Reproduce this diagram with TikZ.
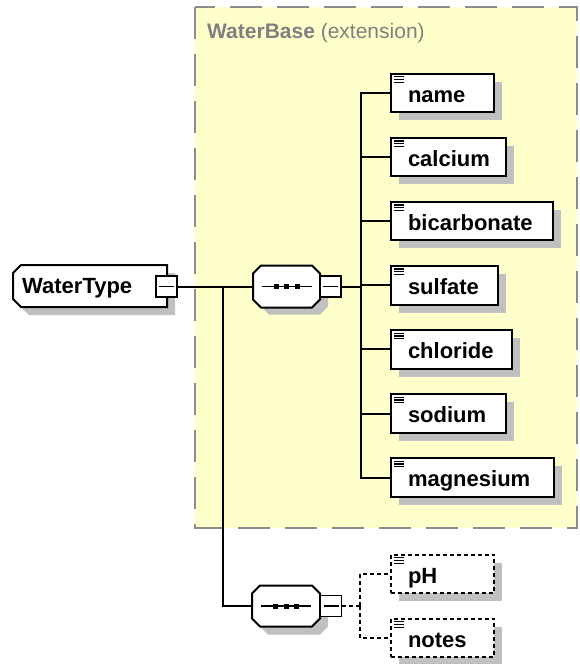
\documentclass[tikz,border=0pt]{standalone}
\usepackage{fontspec}
\setmainfont{Liberation Sans}
\usetikzlibrary{shadows}

\definecolor{basefill}{RGB}{255,255,204}
\definecolor{baseedge}{RGB}{140,140,140}
\definecolor{shadowgray}{RGB}{192,192,192}
\definecolor{labelgray}{RGB}{128,128,128}

\tikzset{
  conn/.style={line width=2pt},
  optconn/.style={line width=2pt, dash pattern=on 4pt off 3pt},
  elem/.style={draw, line width=2pt, fill=white, rectangle, inner ysep=0pt,
    inner xsep=17pt, minimum height=38.5pt, text height=18pt, text depth=0pt,
    align=left, font=\bfseries\fontsize{22}{24}\selectfont, anchor=west,
    drop shadow={shadow xshift=8pt, shadow yshift=-8pt, fill=shadowgray, opacity=1}},
  optelem/.style={elem, dash pattern=on 4pt off 3pt},
  minusbox/.style={draw, line width=1.8pt, fill=white, rectangle, inner sep=0pt,
    minimum size=21pt,
    path picture={\draw[line width=1.6pt]
      ([xshift=3pt]path picture bounding box.west) --
      ([xshift=-3pt]path picture bounding box.east);}},
  hook/.style={draw=none, inner sep=0pt, rectangle},
  lbl/.style={inner sep=0pt, font=\bfseries\fontsize{22}{24}\selectfont},
  shell/.style={draw, line width=2pt, fill=white},
}

% octagon-like outline: x1, y1, x2, y2, chamfer
\newcommand\seqoutline[5]{({#1+#5},#2) -- ({#3-#5},#2) -- (#3,{#2+#5}) --
  (#3,{#4-#5}) -- ({#3-#5},#4) -- ({#1+#5},#4) -- (#1,{#4-#5}) -- (#1,{#2+#5}) -- cycle}

% three-dot sequence mark centred at x, y
\newcommand\seqmark[2]{%
  \draw[line width=1.6pt] ({#1-25},#2) -- ({#1+25},#2);
  \foreach \dx in {-10.5,0,10.5}
    {\fill ({#1+\dx-2.5},{#2-2.5}) rectangle ({#1+\dx+2.5},{#2+2.5});}}

% entry mark in the upper left corner of an element box
\newcommand\entrymark[1]{%
  \foreach \dy in {4,6.7,9.4}
    {\draw[line width=1.3pt] ([xshift=4pt,yshift=-\dy pt]#1.north west) -- ++(10pt,0);}}

\begin{document}
\begin{tikzpicture}[x=1pt, y=-1pt]
\useasboundingbox (0,0) rectangle (579,664);

% base type area
\fill[basefill] (195,7) rectangle (577,528);
\draw[baseedge, line width=2pt, dash pattern=on 32pt off 15pt] (195,7) rectangle (577,528);
\node[anchor=base west, inner sep=0pt, text=labelgray,
  font=\fontsize{21}{24}\selectfont] (basetitle) at (207,38)
  {\textbf{WaterBase} (extension)};

% root element
\fill[shadowgray] (29,273) -- (175,273) -- (175,315) -- (29,315) -- (21,307) -- (21,281) -- cycle;
\path[shell] (21,265) -- (167,265) -- (167,307) -- (21,307) -- (13,299) -- (13,273) -- cycle;
\node[lbl, anchor=base west] (wt) at (22,293) {WaterType};
\node[minusbox] (wtm) at (166.5,286.5) {};

% first sequence
\fill[shadowgray] \seqoutline{261}{273.5}{328}{314.5}{8};
\path[shell] \seqoutline{253}{265.5}{320}{307.5}{8};
\node[hook, minimum width=67pt, minimum height=42pt] (s1) at (286.5,286.5) {};
\seqmark{286.5}{286.5}
\node[minusbox] (s1m) at (330.5,286.5) {};

% second sequence
\fill[shadowgray] \seqoutline{260}{593.5}{328}{634.5}{8};
\path[shell] \seqoutline{252}{585.5}{320}{626.5}{8};
\node[hook, minimum width=68pt, minimum height=42pt] (s2) at (286,606) {};
\seqmark{286}{606}
\node[minusbox] (s2m) at (331,606) {};

% children of the first sequence
\node[elem, text width=69pt]  (name)        at (390,93)    {name};
\node[elem, text width=81pt]  (calcium)     at (390,157.1) {calcium};
\node[elem, text width=128pt] (bicarbonate) at (390,221.2) {bicarbonate};
\node[elem, text width=73pt]  (sulfate)     at (390,285.3) {sulfate};
\node[elem, text width=87pt]  (chloride)    at (390,349.4) {chloride};
\node[elem, text width=81pt]  (sodium)      at (390,413.5) {sodium};
\node[elem, text width=129pt] (magnesium)   at (390,477.6) {magnesium};
\foreach \n in {name,calcium,bicarbonate,sulfate,chloride,sodium,magnesium}
  {\entrymark{\n}}

% optional children of the second sequence
\node[optelem, text width=69pt] (ph)    at (390,574) {pH};
\node[optelem, text width=69pt] (notes) at (390,638) {notes};
\entrymark{ph}
\entrymark{notes}

% connectors
\coordinate (j0) at (223,286.5);
\coordinate (j1) at (361,286.5);
\coordinate (j2) at (360,606);
\draw[conn] (wtm.east) -- (s1.west);
\draw[conn] (j0) |- (s2.west);
\draw[conn] (s1m.east) -- (j1);
\foreach \n in {name,calcium,bicarbonate,sulfate,chloride,sodium,magnesium}
  {\draw[conn] (j1) |- (\n.west);}
\draw[optconn] (s2m.east) -- (j2);
\draw[optconn] (j2) |- (ph.west);
\draw[optconn] (j2) |- (notes.west);
\end{tikzpicture}
\end{document}
